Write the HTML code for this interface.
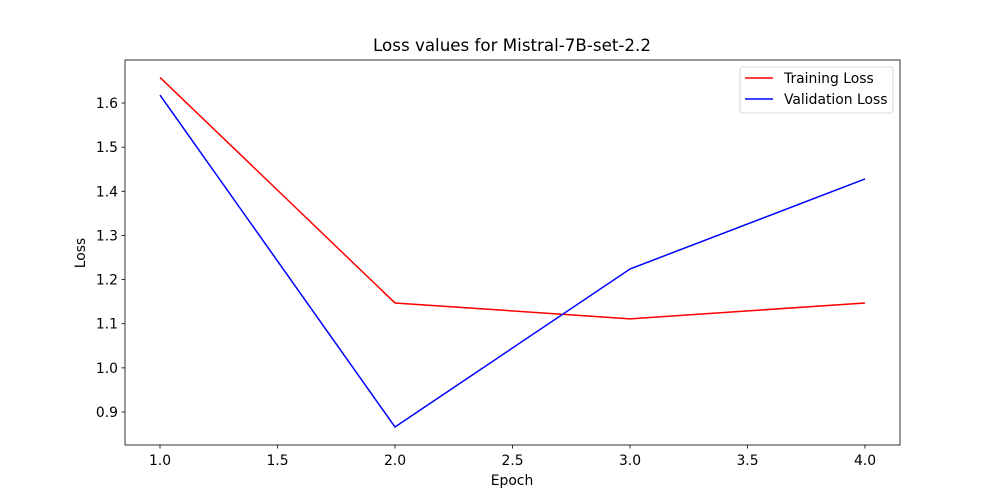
<!DOCTYPE html>
<html><head><meta charset="utf-8"><style>
html,body{margin:0;padding:0;background:#fff;}
svg{display:block;font-family:"DejaVu Sans","Liberation Sans",sans-serif;}
</style></head><body>
<svg id="chart" width="1000" height="500" viewBox="0 0 1000 500">
<rect x="0" y="0" width="1000" height="500" fill="#fff"/>
<g id="plot"></g>
<text x="512" y="51" font-size="16.7" text-anchor="middle">Loss values for Mistral-7B-set-2.2</text>
<text x="512" y="485" font-size="13.9" text-anchor="middle">Epoch</text>
<text x="85" y="253" font-size="13.9" text-anchor="middle" transform="rotate(-90 85 253)">Loss</text>
<g>
<rect x="740" y="67" width="153" height="46" rx="3" fill="#fff" fill-opacity="0.8" stroke="#ccc" stroke-width="0.8"/>
<line x1="745" x2="773" y1="78" y2="78" stroke="#ff0000" stroke-width="1.5"/>
<text x="784" y="83" font-size="13.9">Training Loss</text>
<line x1="745" x2="773" y1="99" y2="99" stroke="#0000ff" stroke-width="1.5"/>
<text x="784" y="104" font-size="13.9">Validation Loss</text>
</g>
</svg>
<script>
const epochs=[1,2,3,4];
const trainingLoss=[1.658,1.147,1.111,1.147];
const validationLoss=[1.618,0.866,1.224,1.428];
const xTicks=[1.0,1.5,2.0,2.5,3.0,3.5,4.0];
const yTicks=[0.9,1.0,1.1,1.2,1.3,1.4,1.5,1.6];
const NS="http://www.w3.org/2000/svg";
const L=125,R=900,T=60,B=445;
function sx(v){return 160+(v-1)*235;}
function sy(v){return 412-(v-0.9)*441.4;}
const g=document.getElementById('plot');
function mk(tag,attrs){const e=document.createElementNS(NS,tag);for(const k in attrs)e.setAttribute(k,attrs[k]);g.appendChild(e);return e;}
function line(vals,color,name){
  const p=mk('polyline',{points:vals.map((v,i)=>sx(epochs[i])+','+sy(v)).join(' '),fill:'none',stroke:color,'stroke-width':1.5});
  
  
}
line(trainingLoss,'#ff0000','training-loss-line');
line(validationLoss,'#0000ff','validation-loss-line');
const frame=mk('rect',{x:L,y:T,width:R-L,height:B-T,fill:'none',stroke:'#000','stroke-width':0.8});


xTicks.forEach(v=>{
  const x=sx(v);
  const t=mk('line',{x1:x,x2:x,y1:B,y2:B+3.5,stroke:'#000','stroke-width':0.8});
  
  
  const l=mk('text',{x:x,y:B+20,'font-size':13.9,'text-anchor':'middle',fill:'#000'});
  l.textContent=v.toFixed(1);
  
  
});
yTicks.forEach(v=>{
  const y=sy(v);
  const t=mk('line',{x1:L-3.5,x2:L,y1:y,y2:y,stroke:'#000','stroke-width':0.8});
  
  
  const l=mk('text',{x:L-7,y:y+5,'font-size':13.9,'text-anchor':'end',fill:'#000'});
  l.textContent=v.toFixed(1);
  
  
});
</script>
</body></html>
